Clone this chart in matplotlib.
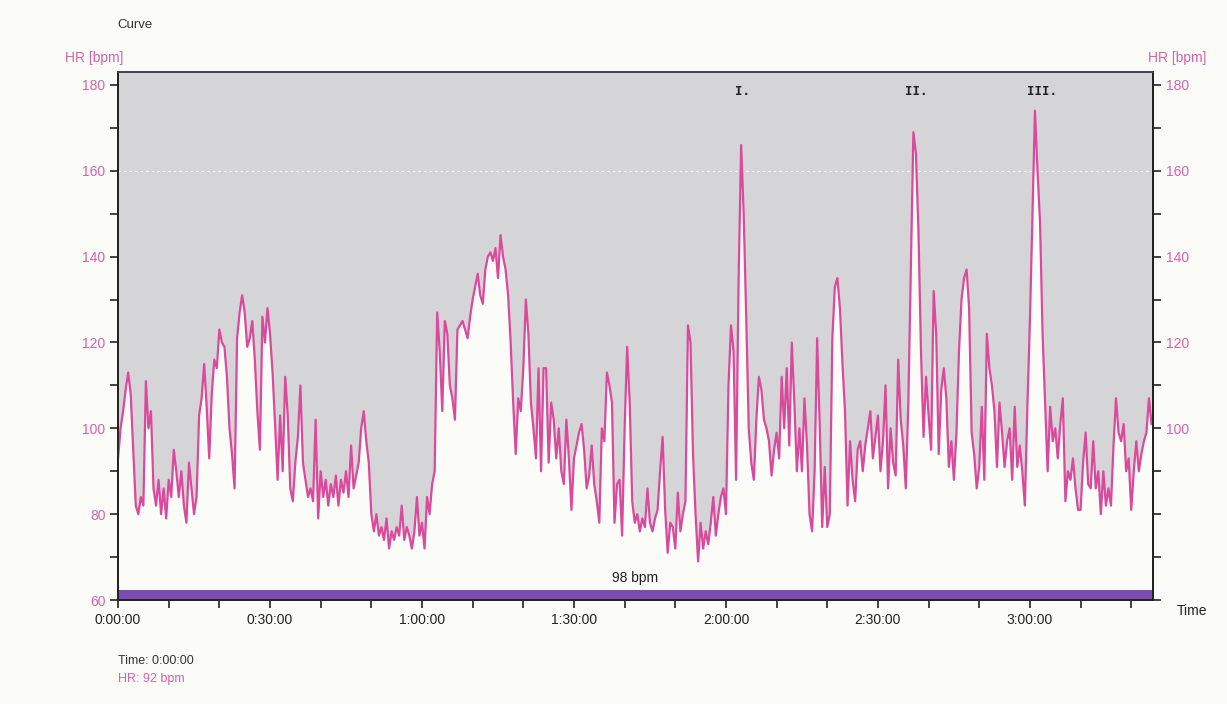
import numpy as np
import matplotlib
matplotlib.use("Agg")
import matplotlib.pyplot as plt
from matplotlib.ticker import MultipleLocator, FuncFormatter

plt.rcParams["font.family"] = ["Liberation Sans", "DejaVu Sans"]

# --------------------------------------------------------
# Data: heart rate, one value every 30 s
# --------------------------------------------------------
step_min = 0.5
hr_bpm = [
    # 0:00 - 0:09:30
    93, 100, 104, 109, 113, 108, 95, 82, 80, 84, 82, 111, 100, 104, 86, 82, 88, 80, 86, 79,
    # 0:10 - 0:19:30
    88, 84, 95, 90, 84, 90, 82, 78, 92, 86, 80, 84, 103, 107, 115, 105, 93, 108, 116, 114,
    # 0:20 - 0:29:30
    123, 120, 119, 112, 100, 94, 86, 121, 127, 131, 127, 119, 121, 125, 116, 104, 95, 126, 120, 128,
    # 0:30 - 0:39:30
    122, 113, 101, 88, 103, 90, 112, 103, 86, 83, 92, 98, 110, 92, 88, 84, 86, 83, 102, 79,
    # 0:40 - 0:49:30
    90, 84, 88, 82, 87, 84, 89, 82, 88, 85, 90, 84, 96, 86, 89, 92, 100, 104, 97, 92,
    # 0:50 - 0:59:30
    80, 76, 80, 75, 77, 74, 79, 72, 76, 74, 77, 75, 82, 74, 77, 75, 72, 76, 84, 75,
    # 1:00 - 1:09:30
    78, 72, 84, 80, 87, 90, 127, 118, 104, 125, 122, 110, 107, 102, 123, 124, 125, 123, 121, 126,
    # 1:10 - 1:19:30
    130, 133, 136, 131, 129, 137, 140, 141, 139, 142, 135, 145, 140, 137, 131, 120, 106, 94, 107, 104,
    # 1:20 - 1:29:30
    114, 130, 122, 106, 100, 93, 114, 90, 114, 114, 92, 106, 102, 93, 100, 90, 87, 102, 93, 81,
    # 1:30 - 1:39:30
    93, 96, 99, 101, 95, 86, 89, 96, 87, 83, 78, 100, 97, 113, 110, 106, 78, 87, 88, 75,
    # 1:40 - 1:49:30
    100, 119, 106, 83, 78, 80, 76, 79, 77, 86, 78, 76, 79, 81, 90, 98, 81, 71, 78, 77,
    # 1:50 - 1:59:30
    72, 85, 76, 80, 83, 124, 120, 94, 80, 69, 78, 72, 76, 73, 78, 84, 75, 80, 84, 86,
    # 2:00 - 2:09:30
    80, 110, 124, 118, 88, 135, 166, 150, 126, 100, 92, 88, 102, 112, 109, 102, 100, 97, 89, 95,
    # 2:10 - 2:19:30
    99, 93, 112, 100, 114, 96, 120, 106, 90, 100, 90, 107, 96, 80, 76, 90, 121, 101, 77, 91,
    # 2:20 - 2:29:30
    77, 80, 121, 133, 135, 128, 115, 104, 82, 97, 88, 83, 95, 97, 90, 96, 100, 104, 93, 98,
    # 2:30 - 2:39:30
    103, 90, 97, 110, 86, 100, 92, 89, 116, 102, 96, 86, 106, 138, 169, 164, 146, 118, 98, 112,
    # 2:40 - 2:49:30
    103, 95, 132, 122, 94, 109, 114, 107, 91, 97, 88, 99, 118, 130, 135, 137, 128, 99, 94, 86,
    # 2:50 - 2:59:30
    91, 105, 88, 122, 114, 110, 104, 91, 106, 99, 91, 97, 100, 88, 105, 91, 96, 90, 82, 105,
    # 3:00 - 3:09:30
    125, 150, 174, 160, 148, 122, 106, 90, 105, 97, 100, 93, 101, 107, 83, 90, 88, 93, 86, 81,
    # 3:10 - 3:19:30
    81, 92, 99, 87, 86, 97, 86, 90, 80, 90, 82, 86, 82, 96, 107, 99, 97, 101, 90, 93,
    # 3:20 - 3:24
    81, 90, 97, 90, 94, 97, 99, 107, 101,
]
time_min = np.arange(len(hr_bpm)) * step_min

mean_hr = 98
cursor_time = "0:00:00"
cursor_hr = 92
marker_labels = ["I.", "II.", "III."]
marker_times = [123.2, 157.6, 182.3]  # minutes

PINK = "#da4a9c"
PINK_TXT = "#d862a8"
GRAY_BG = "#d5d5d8"
PAPER = "#fbfbf8"

# --------------------------------------------------------
# Figure
# --------------------------------------------------------
fig = plt.figure(figsize=(12.27, 7.04), dpi=100, facecolor=PAPER)
ax = fig.add_axes([0.0962, 0.1477, 0.8435, 0.75])
ax.set_facecolor(PAPER)

y_top = 183
ax.fill_between(time_min, hr_bpm, y_top, color=GRAY_BG, lw=0, zorder=1)
ax.axhline(160, color="white", lw=0.8, ls=(0, (2, 3)), zorder=1.5)
ax.plot(time_min, hr_bpm, color=PINK, lw=1.6, zorder=3)

# mean band at the bottom
ax.axhspan(60, 62.3, color="#7a4cb0", lw=0, zorder=2)
ax.text(time_min[-1] / 2, 63.5, f"{mean_hr} bpm", ha="center", va="bottom",
        fontsize=10, color="#222222", zorder=4)

for lab, tm in zip(marker_labels, marker_times):
    ax.text(tm, 178.5, lab, ha="center", va="center", fontsize=9,
            family="DejaVu Sans Mono", fontweight="bold", color="#222222", zorder=4)

ax.set_xlim(0, time_min[-1] + 0.3)
ax.set_ylim(60, y_top)

def hms(x, pos):
    m = int(round(x))
    return f"{m // 60}:{m % 60:02d}:00"

ax.xaxis.set_major_locator(MultipleLocator(30))
ax.xaxis.set_minor_locator(MultipleLocator(10))
ax.xaxis.set_major_formatter(FuncFormatter(hms))
ax.yaxis.set_major_locator(MultipleLocator(20))
ax.yaxis.set_minor_locator(MultipleLocator(10))

ax.tick_params(axis="x", which="both", direction="out", length=6, width=1.2,
               labelsize=10, colors="#222222", pad=3)
ax.tick_params(axis="y", which="both", direction="out", length=6, width=1.2,
               labelsize=10, labelcolor=PINK_TXT, color="#222222", pad=3)

ax2 = ax.twinx()
ax2.set_ylim(60, y_top)
ax2.set_yticks([100, 120, 140, 160, 180])
ax2.yaxis.set_minor_locator(MultipleLocator(10))
ax2.tick_params(axis="y", which="both", direction="out", length=6, width=1.2,
                labelsize=10, labelcolor=PINK_TXT, color="#222222", pad=3)

for a in (ax, ax2):
    for s in a.spines.values():
        s.set_color("#222222")
        s.set_linewidth(1.3)
    a.spines["top"].set_color("#444455")

# --------------------------------------------------------
# Labels around the chart
# --------------------------------------------------------
fig.text(0.0955, 0.9645, "Curve", fontsize=9.5, color="#333333", va="center")
fig.text(0.1002, 0.9176, "HR [bpm]", fontsize=10, color=PINK_TXT, va="center", ha="right")
fig.text(0.9356, 0.9176, "HR [bpm]", fontsize=10, color=PINK_TXT, va="center", ha="left")
fig.text(0.9593, 0.132, "Time", fontsize=10, color="#222222", va="center")
fig.text(0.0962, 0.0611, f"Time: {cursor_time}", fontsize=9, color="#333333", va="center")
fig.text(0.0962, 0.0355, f"HR: {cursor_hr} bpm", fontsize=9, color=PINK_TXT, va="center")

fig.savefig("out.png", dpi=100, facecolor=PAPER)
